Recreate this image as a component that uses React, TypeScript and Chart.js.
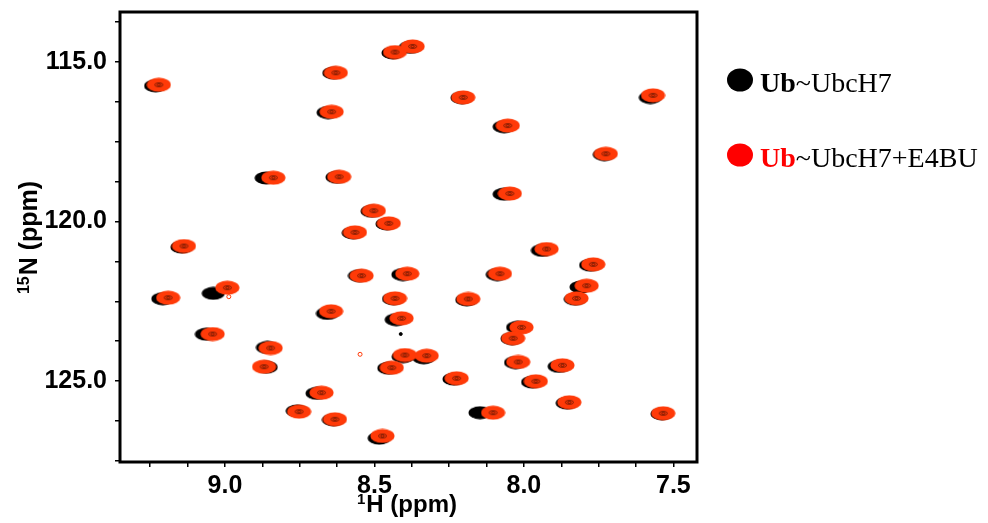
import React, { useEffect, useRef } from "react";
import { Chart, registerables } from "chart.js";

Chart.register(...registerables);

// 1H (ppm) and 15N (ppm) peak positions, Ub~UbcH7 + E4BU (red)
const redH = [9.221, 8.431, 8.372, 8.629, 8.203, 7.568, 8.643, 8.054, 7.726, 8.838, 8.618, 8.047, 8.502, 8.452, 8.565, 7.924, 9.137, 7.768, 8.543, 8.39, 8.08, 7.79, 7.824, 9.19, 8.992, 8.431, 8.186, 8.645, 8.409, 9.041, 8.008, 8.036, 8.847, 8.398, 8.325, 8.442, 8.869, 8.019, 7.871, 8.225, 7.96, 8.677, 8.752, 8.632, 8.103, 7.848, 7.534, 8.473];
const redN = [115.712, 114.687, 114.508, 115.335, 116.107, 116.044, 116.558, 116.991, 117.875, 118.627, 118.596, 119.122, 119.661, 120.056, 120.339, 120.862, 120.768, 121.342, 121.699, 121.636, 121.636, 122.013, 122.408, 122.389, 122.075, 122.408, 122.429, 122.815, 123.034, 123.527, 123.317, 123.661, 123.966, 124.185, 124.207, 124.583, 124.552, 124.404, 124.508, 124.915, 125.009, 125.367, 125.962, 126.201, 125.994, 125.668, 126.013, 126.724];

// Ub~UbcH7 (black)
const blackH = [9.232, 8.438, 8.38, 8.636, 8.207, 7.577, 8.655, 8.066, 7.731, 8.862, 8.625, 8.066, 8.508, 8.458, 8.571, 7.938, 9.144, 7.777, 8.55, 8.405, 8.089, 7.809, 7.828, 9.208, 9.039, 8.436, 8.191, 8.657, 8.427, 9.062, 8.021, 8.04, 8.858, 8.404, 8.335, 8.452, 8.862, 8.028, 7.882, 8.234, 7.971, 8.692, 8.758, 8.637, 8.147, 7.855, 7.538, 8.484];
const blackN = [115.745, 114.712, 114.538, 115.343, 116.117, 116.112, 116.583, 117.028, 117.9, 118.634, 118.61, 119.142, 119.676, 120.074, 120.357, 120.905, 120.801, 121.367, 121.699, 121.662, 121.662, 122.053, 122.433, 122.421, 122.251, 122.425, 122.455, 122.883, 123.077, 123.534, 123.317, 123.671, 123.948, 124.236, 124.272, 124.598, 124.567, 124.422, 124.543, 124.941, 125.035, 125.387, 125.937, 126.219, 125.994, 125.693, 126.03, 126.792];

// small stray contours
const strayRedH = [8.987, 8.548];
const strayRedN = [122.357, 124.163];
const strayBlackH = [8.412];
const strayBlackN = [123.527];

const xTickValues = [9.25, 9.125, 9.0, 8.875, 8.75, 8.625, 8.5, 8.375, 8.25, 8.125, 8.0, 7.875, 7.75, 7.625, 7.5];
const yTickValues = [113.75, 115, 116.25, 117.5, 118.75, 120, 121.25, 122.5, 123.75, 125, 126.25, 127.5];
const xRange = [7.421, 9.351];
const yRange = [113.43, 127.54];

const legendBold = ["Ub", "Ub"];
const legendRest = ["~UbcH7", "~UbcH7+E4BU"];
const legendColors = ["#000000", "#ff0000"];

const PEAK_RED = "rgb(255,58,8)";

function makeBlob(fill: string, contour: boolean, w: number, h: number) {
  const c = document.createElement("canvas");
  c.width = w;
  c.height = h;
  const g = c.getContext("2d")!;
  g.fillStyle = fill;
  g.beginPath();
  g.ellipse(w / 2, h / 2, w / 2 - 0.5, h / 2 - 0.5, 0, 0, Math.PI * 2);
  g.fill();
  if (contour) {
    g.strokeStyle = "rgba(0,0,0,0.7)";
    g.lineWidth = 0.7;
    g.beginPath();
    g.ellipse(w / 2, h / 2, 4, 2, 0, 0, Math.PI * 2);
    g.stroke();
    g.beginPath();
    g.ellipse(w / 2, h / 2, 1.6, 1, 0, 0, Math.PI * 2);
    g.stroke();
  }
  return c;
}

function zip(xs: number[], ys: number[]) {
  return xs.map((x, i) => ({ x, y: ys[i] }));
}

const SANS = "'Liberation Sans', Arial, sans-serif";
const SERIF = "'Liberation Serif', 'Times New Roman', serif";

function drawSupTitle(ctx: CanvasRenderingContext2D, sup: string, main: string, cx: number, baseline: number, size: number) {
  const supSize = Math.round(size * 0.62);
  ctx.font = `bold ${supSize}px ${SANS}`;
  const ws = ctx.measureText(sup).width;
  ctx.font = `bold ${size}px ${SANS}`;
  const wm = ctx.measureText(main).width;
  const start = cx - (ws + wm) / 2;
  ctx.fillStyle = "#000";
  ctx.textAlign = "left";
  ctx.textBaseline = "alphabetic";
  ctx.font = `bold ${supSize}px ${SANS}`;
  ctx.fillText(sup, start, baseline - size * 0.34);
  ctx.font = `bold ${size}px ${SANS}`;
  ctx.fillText(main, start + ws + 1, baseline);
}

const decorPlugin = {
  id: "decor",
  afterDraw(chart: any) {
    const { ctx, chartArea } = chart;
    const { left, top, right, bottom } = chartArea;
    ctx.save();
    ctx.strokeStyle = "#000";
    ctx.lineWidth = 3;
    ctx.strokeRect(left, top, right - left, bottom - top);

    // axis titles
    drawSupTitle(ctx, "1", "H (ppm)", (left + right) / 2 - 2, 512, 24);
    ctx.save();
    ctx.translate(37, (top + bottom) / 2 + 1);
    ctx.rotate(-Math.PI / 2);
    drawSupTitle(ctx, "15", "N (ppm)", 0, 0, 25);
    ctx.restore();

    // legend
    const rows = [92, 167];
    rows.forEach((base, i) => {
      ctx.fillStyle = legendColors[i];
      ctx.beginPath();
      ctx.ellipse(740, base - 12, 13, 11.5, 0, 0, Math.PI * 2);
      ctx.fill();
      ctx.textAlign = "left";
      ctx.textBaseline = "alphabetic";
      ctx.font = `bold 28px ${SERIF}`;
      ctx.fillText(legendBold[i], 760, base);
      const wb = ctx.measureText(legendBold[i]).width;
      ctx.font = `28px ${SERIF}`;
      ctx.fillStyle = "#000";
      ctx.fillText(legendRest[i], 760 + wb, base);
    });
    ctx.restore();
  },
};

export default function App() {
  const ref = useRef<HTMLCanvasElement | null>(null);

  useEffect(() => {
    document.body.style.margin = "0";
    const canvas = ref.current!;
    const redBlob = makeBlob(PEAK_RED, true, 25, 15);
    const blackBlob = makeBlob("#000000", false, 24, 14);

    const chart = new Chart(canvas, {
      type: "scatter",
      data: {
        datasets: [
          {
            label: "stray-red",
            data: zip(strayRedH, strayRedN),
            pointStyle: "circle",
            pointRadius: 2,
            backgroundColor: "rgba(255,255,255,0)",
            borderColor: PEAK_RED,
            borderWidth: 1,
            order: 0,
          },
          {
            label: "Ub~UbcH7+E4BU",
            data: zip(redH, redN),
            pointStyle: redBlob as any,
            pointRadius: 6,
            order: 1,
          },
          {
            label: "stray-black",
            data: zip(strayBlackH, strayBlackN),
            pointStyle: "circle",
            pointRadius: 1.5,
            backgroundColor: "#000",
            borderColor: "#000",
            order: 2,
          },
          {
            label: "Ub~UbcH7",
            data: zip(blackH, blackN),
            pointStyle: blackBlob as any,
            pointRadius: 6,
            order: 3,
          },
        ],
      },
      options: {
        responsive: false,
        animation: false,
        devicePixelRatio: 1,
        layout: { padding: { left: 0, top: 12, right: 291, bottom: 0 } },
        plugins: {
          legend: { display: false },
          tooltip: { enabled: false },
        },
        scales: {
          x: {
            type: "linear",
            reverse: true,
            min: xRange[0],
            max: xRange[1],
            afterBuildTicks: (axis: any) => {
              axis.ticks = xTickValues.map((v) => ({ value: v }));
            },
            afterFit: (scale: any) => {
              scale.height = 61;
              scale.paddingLeft = 0;
              scale.paddingRight = 0;
              scale.paddingTop = 0;
              scale.paddingBottom = 0;
            },
            grid: { drawOnChartArea: false, drawTicks: true, tickLength: 5, color: "#000", lineWidth: 1.5 },
            border: { display: false },
            ticks: {
              autoSkip: false,
              maxRotation: 0,
              padding: 4,
              color: "#000",
              font: { family: SANS, size: 25, weight: "bold" },
              callback: (v: any) => {
                const n = Number(v);
                return Math.abs(n * 2 - Math.round(n * 2)) < 1e-6 ? n.toFixed(1) : "";
              },
            },
          },
          y: {
            type: "linear",
            reverse: true,
            min: yRange[0],
            max: yRange[1],
            afterBuildTicks: (axis: any) => {
              axis.ticks = yTickValues.map((v) => ({ value: v }));
            },
            afterFit: (scale: any) => {
              scale.width = 120;
              scale.paddingLeft = 0;
              scale.paddingRight = 0;
              scale.paddingTop = 0;
              scale.paddingBottom = 0;
            },
            grid: { drawOnChartArea: false, drawTicks: true, tickLength: 5, color: "#000", lineWidth: 1.5 },
            border: { display: false },
            ticks: {
              autoSkip: false,
              padding: 8,
              color: "#000",
              font: { family: SANS, size: 25, weight: "bold" },
              callback: (v: any) => {
                const n = Number(v);
                return Math.abs(n / 5 - Math.round(n / 5)) < 1e-6 ? n.toFixed(1) : "";
              },
            },
          },
        },
      },
      plugins: [decorPlugin],
    } as any);

    return () => chart.destroy();
  }, []);

  return (
    <div style={{ width: 988, height: 523, position: "relative" }}>
      <canvas ref={ref} width={988} height={523} style={{ display: "block" }} />
    </div>
  );
}
